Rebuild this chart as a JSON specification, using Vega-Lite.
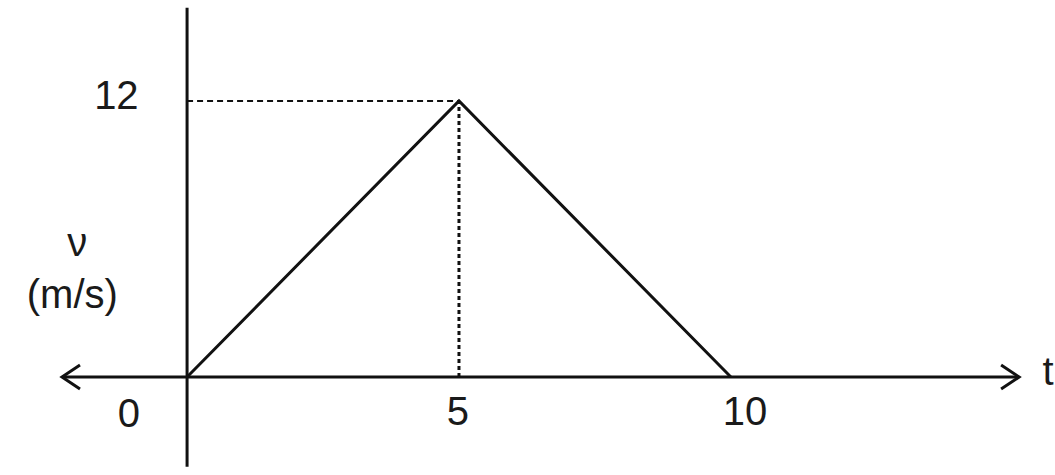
{
  "$schema": "https://vega.github.io/schema/vega-lite/v6.json",
  "width": 1055,
  "height": 475,
  "autosize": {"type": "none"},
  "padding": 0,
  "background": "white",
  "config": {"view": {"stroke": null}},
  "encoding": {
    "x": {"type": "quantitative", "scale": {"domain": [-3.44, 15.96], "nice": false, "zero": false}, "axis": null},
    "y": {"type": "quantitative", "scale": {"domain": [-4.26, 16.39], "nice": false, "zero": false}, "axis": null}
  },
  "layer": [
    {
      "data": {"values": [{"t": 0, "v": -3.9, "v2": 16.05}]},
      "mark": {"type": "rule", "color": "#111111", "strokeWidth": 3},
      "encoding": {"x": {"field": "t"}, "y": {"field": "v"}, "y2": {"field": "v2"}}
    },
    {
      "data": {"values": [{"t": -2.3, "t2": 15.3, "v": 0}]},
      "mark": {"type": "rule", "color": "#111111", "strokeWidth": 3},
      "encoding": {"x": {"field": "t"}, "x2": {"field": "t2"}, "y": {"field": "v"}}
    },
    {
      "data": {"values": [{"t": 0, "t2": 5, "v": 12}]},
      "mark": {"type": "rule", "color": "#111111", "strokeWidth": 2, "strokeDash": [6, 4]},
      "encoding": {"x": {"field": "t"}, "x2": {"field": "t2"}, "y": {"field": "v"}}
    },
    {
      "data": {"values": [{"t": 5, "v": 0, "v2": 12}]},
      "mark": {"type": "rule", "color": "#111111", "strokeWidth": 3, "strokeDash": [4, 3]},
      "encoding": {"x": {"field": "t"}, "y": {"field": "v"}, "y2": {"field": "v2"}}
    },
    {
      "data": {"values": [{"t": 0, "v": 0}, {"t": 5, "v": 12}, {"t": 10, "v": 0}]},
      "mark": {"type": "line", "color": "#111111", "strokeWidth": 3},
      "encoding": {"x": {"field": "t"}, "y": {"field": "v"}, "order": {"field": "t"}}
    },
    {
      "data": {"values": [{"t": -2.3, "v": 0}]},
      "mark": {"type": "point", "shape": "M 3,-2 L 0,0 L 3,2", "size": 144, "filled": false, "stroke": "#111111", "strokeWidth": 3, "opacity": 1},
      "encoding": {"x": {"field": "t"}, "y": {"field": "v"}}
    },
    {
      "data": {"values": [{"t": 15.3, "v": 0}]},
      "mark": {"type": "point", "shape": "M -3,-2 L 0,0 L -3,2", "size": 144, "filled": false, "stroke": "#111111", "strokeWidth": 3, "opacity": 1},
      "encoding": {"x": {"field": "t"}, "y": {"field": "v"}}
    },
    {
      "data": {"values": [
        {"t": -1.3, "v": 12.17, "label": "12"},
        {"t": -1.07, "v": -1.65, "label": "0"},
        {"t": 4.98, "v": -1.57, "label": "5"},
        {"t": 10.26, "v": -1.57, "label": "10"},
        {"t": -2.02, "v": 5.8, "label": "ν"},
        {"t": -2.11, "v": 3.52, "label": "(m/s)"}
      ]},
      "mark": {"type": "text", "font": "Liberation Sans", "fontSize": 40, "color": "#1a1a1a", "align": "center", "baseline": "middle"},
      "encoding": {"x": {"field": "t"}, "y": {"field": "v"}, "text": {"field": "label"}}
    },
    {
      "data": {"values": [{"t": 15.73, "v": 0.17, "label": "t"}]},
      "mark": {"type": "text", "font": "Liberation Sans", "fontSize": 40, "color": "#1a1a1a", "align": "left", "baseline": "middle"},
      "encoding": {"x": {"field": "t"}, "y": {"field": "v"}, "text": {"field": "label"}}
    }
  ]
}
